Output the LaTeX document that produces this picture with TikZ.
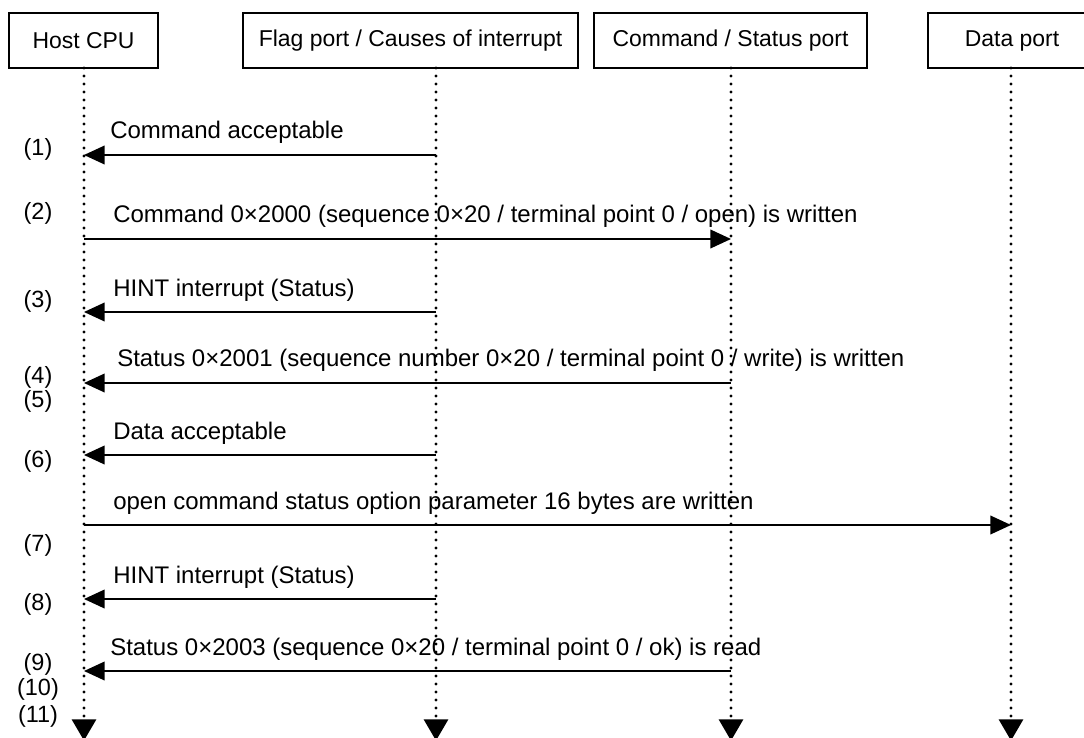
\documentclass[tikz,border=0pt]{standalone}
\usepackage{fontspec}
\setmainfont{Liberation Sans}
\usetikzlibrary{arrows.meta}
\tikzset{
  portbox/.style={draw, line width=1.3pt, minimum height=41pt, inner sep=0pt,
    font=\fontsize{17.2}{20}\selectfont},
  life/.style={line width=2.3pt, line cap=round, dash pattern=on 0pt off 6pt,
    -{Triangle[length=16pt,width=18pt]}, shorten >=-2pt},
  msg/.style={line width=1.3pt, -{Triangle[length=15.5pt,width=14pt]}},
  lbl/.style={anchor=base west, inner sep=0pt, font=\fontsize{18}{20}\selectfont},
  stepno/.style={anchor=center, inner sep=0pt}
}
\begin{document}
\begin{tikzpicture}[x=0.75pt,y=-0.75pt, font=\fontsize{17.6}{20}\selectfont]
  \useasboundingbox (0,0) rectangle (1084,738);
  % ports
  \node[portbox, minimum width=111.75pt] (host) at (83.5,40.5) {Host CPU};
  \node[portbox, minimum width=251.25pt] (flag) at (410.5,40.5) {Flag port / Causes of interrupt};
  \node[portbox, minimum width=204.75pt] (cmd) at (730.5,40.5) {Command / Status port};
  \node[portbox, minimum width=126pt] (data) at (1012,40.5) {Data port};
  % lifelines
  \coordinate (hostTop) at (84,68);   \coordinate (hostEnd) at (84,738);
  \coordinate (flagTop) at (436,68);  \coordinate (flagEnd) at (436,738);
  \coordinate (cmdTop) at (731,68);   \coordinate (cmdEnd) at (731,738);
  \coordinate (dataTop) at (1011,68); \coordinate (dataEnd) at (1011,738);
  \draw[life] (hostTop) -- (hostEnd);
  \draw[life] (flagTop) -- (flagEnd);
  \draw[life] (cmdTop) -- (cmdEnd);
  \draw[life] (dataTop) -- (dataEnd);
  % message end points
  \coordinate (h1) at (84,155); \coordinate (f1) at (436,155);
  \coordinate (h2) at (84,239); \coordinate (c2) at (731,239);
  \coordinate (h3) at (84,312); \coordinate (f3) at (436,312);
  \coordinate (h4) at (84,383); \coordinate (c4) at (731,383);
  \coordinate (h6) at (84,455); \coordinate (f6) at (436,455);
  \coordinate (h7) at (84,525); \coordinate (d7) at (1011,525);
  \coordinate (h8) at (84,599); \coordinate (f8) at (436,599);
  \coordinate (h9) at (84,671); \coordinate (c9) at (731,671);
  % messages
  \draw[msg] (f1) -- (h1);
  \draw[msg] (h2) -- (c2);
  \draw[msg] (f3) -- (h3);
  \draw[msg] (c4) -- (h4);
  \draw[msg] (f6) -- (h6);
  \draw[msg] (h7) -- (d7);
  \draw[msg] (f8) -- (h8);
  \draw[msg] (c9) -- (h9);
  \node[lbl] (m1) at (110,138) {Command acceptable};
  \node[lbl] (m2) at (113,222) {Command 0\texttimes2000 (sequence 0\texttimes20 / terminal point 0 / open) is written};
  \node[lbl] (m3) at (113,296) {HINT interrupt (Status)};
  \node[lbl] (m4) at (117,366) {Status 0\texttimes2001 (sequence number 0\texttimes20 / terminal point 0 / write) is written};
  \node[lbl] (m6) at (113,439) {Data acceptable};
  \node[lbl] (m7) at (113,509) {open command status option parameter 16 bytes are written};
  \node[lbl] (m8) at (113,583) {HINT interrupt (Status)};
  \node[lbl] (m9) at (110,655) {Status 0\texttimes2003 (sequence 0\texttimes20 / terminal point 0 / ok) is read};
  % step numbers
  \node[stepno] (s1) at (38,149) {(1)};
  \node[stepno] (s2) at (38,213) {(2)};
  \node[stepno] (s3) at (38,301) {(3)};
  \node[stepno] (s4) at (38,377) {(4)};
  \node[stepno] (s5) at (38,401) {(5)};
  \node[stepno] (s6) at (38,461) {(6)};
  \node[stepno] (s7) at (38,545) {(7)};
  \node[stepno] (s8) at (38,604) {(8)};
  \node[stepno] (s9) at (38,664) {(9)};
  \node[stepno] (s10) at (38,689) {(10)};
  \node[stepno] (s11) at (38,716) {(11)};
\end{tikzpicture}
\end{document}
